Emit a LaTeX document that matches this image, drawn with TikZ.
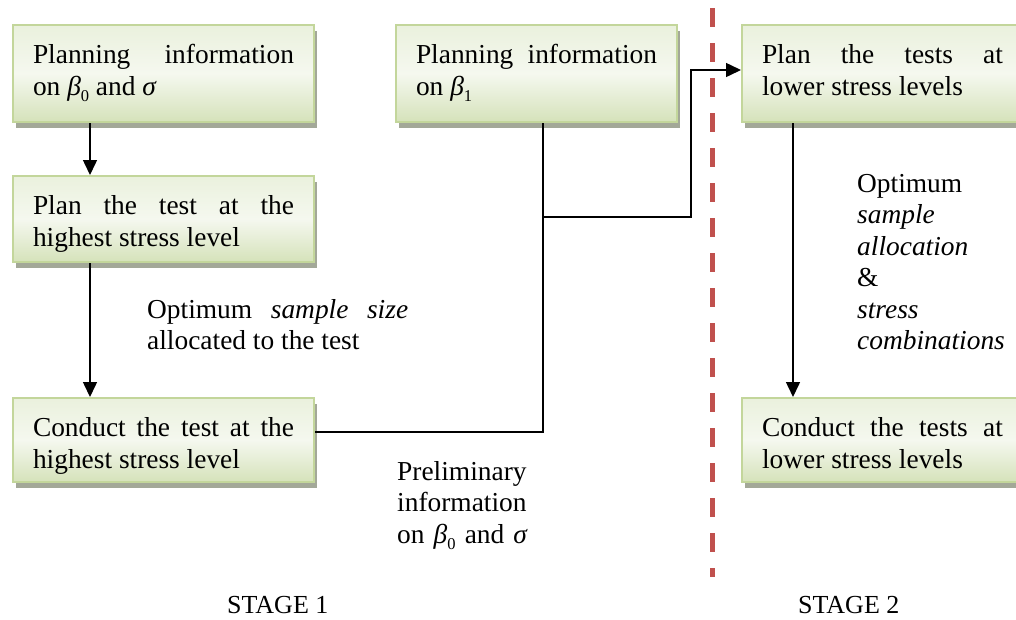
\documentclass[tikz,border=0pt]{standalone}
\usepackage{fontspec}
\setmainfont{Liberation Serif}
\usetikzlibrary{arrows.meta,shadows}

\definecolor{boxedge}{RGB}{195,214,155}
\definecolor{boxtop}{RGB}{234,241,221}
\definecolor{boxmid}{RGB}{245,248,239}
\definecolor{boxbot}{RGB}{213,226,186}
\definecolor{shadowgray}{RGB}{163,168,152}
\definecolor{stagered}{RGB}{192,80,77}

% lowered subscript digit, set in text font
\newcommand{\lowsub}[1]{\raisebox{-0.22em}{\fontsize{16.5}{16.5}\selectfont #1}}

\tikzset{
  stepbox/.style={
    rectangle, anchor=north west,
    draw=boxedge, line width=2pt,
    top color=boxtop, bottom color=boxbot, middle color=boxmid,
    drop shadow={shadow xshift=3pt, shadow yshift=-6pt, fill=shadowgray, opacity=1},
    inner xsep=20pt, inner ysep=20pt, text height=18.5pt,
    align=justify, font=\fontsize{27.4}{32}\selectfont
  },
  note/.style={anchor=base west, inner sep=0pt, font=\fontsize{27.4}{31.5}\selectfont},
  stagelabel/.style={anchor=base west, inner sep=0pt, font=\fontsize{26}{30}\selectfont},
  link/.style={line width=1.5pt, black},
  arr/.style={link, -{Triangle[length=15pt,width=14pt]}},
  divider/.style={stagered, line width=5pt, dash pattern=on 19pt off 16pt}
}

\begin{document}
\begin{tikzpicture}[x=1pt,y=-1pt]
  \clip (0,0) rectangle (1016,619);
  \fill[white] (0,0) rectangle (1016,619);

  % stage divider
  \draw[divider] (712,8) -- (712,577);

  % stage 1 boxes
  \node[stepbox, text width=261pt, text depth=38.5pt] (b1) at (12,24)
    {Planning information\linebreak on \textit{β}\lowsub{0} and \textit{σ}};
  \node[stepbox, text width=261pt, text depth=27.5pt] (b4) at (12,175)
    {Plan the test at the\linebreak highest stress level};
  \node[stepbox, text width=261pt, text depth=25.5pt] (b5) at (12,397)
    {Conduct the test at the\linebreak highest stress level};
  \node[stepbox, text width=241pt, text depth=38.5pt] (b2) at (395,24)
    {Planning information\linebreak on \textit{β}\lowsub{1}};

  % stage 2 boxes
  \node[stepbox, text width=241pt, text depth=38.5pt] (b3) at (741,24)
    {Plan the tests at\linebreak lower stress levels};
  \node[stepbox, text width=241pt, text depth=25.5pt] (b6) at (741,397)
    {Conduct the tests at\linebreak lower stress levels};

  % connectors
  \draw[arr] ([xshift=78pt]b1.south west) -- ([xshift=78pt]b4.north west);
  \draw[arr] ([xshift=78pt]b4.south west) -- ([xshift=78pt]b5.north west);
  \draw[link] ([yshift=-35pt]b5.north east) -| ([xshift=148pt]b2.south west);
  \coordinate (j) at ([xshift=148pt]b2.south west |- 0,217);
  \draw[arr] (j) -- ++(148,0) |- ([yshift=-46pt]b3.north west);
  \draw[arr] ([xshift=52pt]b3.south west) -- ([xshift=52pt]b6.north west);

  % annotations
  \node[note, text width=261pt, align=justify] (n1) at (147,318)
    {Optimum \textit{sample size}\linebreak allocated to the test};
  \node[note, text width=150pt, align=left] (n2) at (397,480)
    {Preliminary\\ information\\ on \textit{β}\lowsub{0} and \textit{σ}};
  \node[note, text width=158pt, align=left] (n3) at (857,192)
    {Optimum\\ \textit{sample}\\ \textit{allocation}\\ \&\\ \textit{stress}\\ \textit{combinations}};

  % stage captions
  \node[stagelabel] (s1) at (227,613) {STAGE 1};
  \node[stagelabel] (s2) at (798,613) {STAGE 2};
\end{tikzpicture}
\end{document}
